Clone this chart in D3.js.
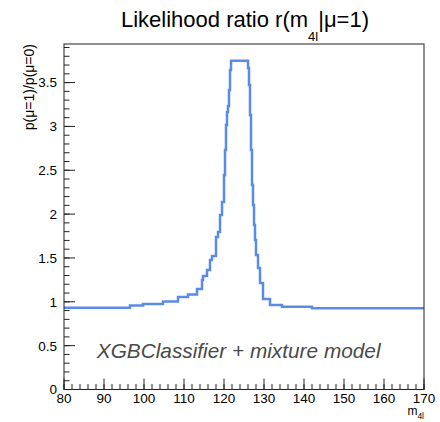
<!DOCTYPE html>
<html>
<head>
<meta charset="utf-8">
<script src="https://cdn.jsdelivr.net/npm/d3@7"></script>
<style>
  body { margin: 0; background: #fff; }
  text { font-family: "Liberation Sans", Arial, sans-serif; fill: #000; }
</style>
</head>
<body>
<svg id="chart" width="440" height="422"></svg>
<script>
// step function: bin edges (m4l) and ratio value in each bin
const edges = [80, 96.5, 99.75, 104.75, 108.5, 111, 113.25, 114.5, 114.75, 115.75, 116.5, 117, 118,
  118.5, 119, 119.5, 120, 120.25, 120.5, 120.75, 121, 121.25, 121.5, 121.75, 126, 126.25, 126.5,
  126.75, 127, 127.25, 127.5, 127.75, 128, 128.5, 129, 129.75, 131.5, 134.5, 142, 170];
const ratio = [0.933, 0.958, 0.975, 1.003, 1.055, 1.083, 1.146, 1.249, 1.294, 1.363, 1.477, 1.522,
  1.739, 1.796, 1.99, 2.138, 2.446, 2.73, 3.016, 3.164, 3.232, 3.415, 3.643, 3.75, 3.666, 3.472,
  3.13, 2.73, 2.332, 2.104, 1.876, 1.705, 1.534, 1.385, 1.214, 1.032, 0.963, 0.944, 0.926];

const xTicks = [80, 90, 100, 110, 120, 130, 140, 150, 160, 170];
const yTicks = [0, 0.5, 1, 1.5, 2, 2.5, 3, 3.5];
const legendText = "XGBClassifier + mixture model";

const margin = {top: 44, right: 16, bottom: 32.5, left: 64};
const W = 440, H = 422;
const w = W - margin.left - margin.right;
const h = H - margin.top - margin.bottom;

const svg = d3.select("#chart");
const g = svg.append("g").attr("transform", `translate(${margin.left},${margin.top})`);

const x = d3.scaleLinear().domain([80, 170]).range([0, w]);
const y = d3.scaleLinear().domain([0, 3.94]).range([h, 0]);

// histogram line
const pts = ratio.map((v, i) => [edges[i], v]);
pts.push([edges[edges.length - 1], ratio[ratio.length - 1]]);
g.append("path")
  .datum(pts)
  .attr("fill", "none")
  .attr("stroke", "#5a8ce6")
  .attr("stroke-width", 2.5)
  .attr("d", d3.line().x(d => x(d[0])).y(d => y(d[1])).curve(d3.curveStepAfter));

// frame
g.append("rect")
  .attr("width", w).attr("height", h)
  .attr("fill", "none").attr("stroke", "#222").attr("stroke-width", 1);

// y axis ticks (inside)
const yMinor = d3.range(0, 3.91, 0.1);
g.selectAll(".ymin").data(yMinor).enter().append("line")
  .attr("x1", 0).attr("x2", 5.5)
  .attr("y1", d => y(d)).attr("y2", d => y(d))
  .attr("stroke", "#222");
g.selectAll(".ymaj").data(yTicks).enter().append("line")
  .attr("x1", 0).attr("x2", 11)
  .attr("y1", d => y(d)).attr("y2", d => y(d))
  .attr("stroke", "#222");
g.selectAll(".ylab").data(yTicks).enter().append("text")
  .attr("x", -7).attr("y", d => y(d)).attr("dy", "0.36em")
  .attr("text-anchor", "end").attr("font-size", 13.5)
  .text(d => d);

// x axis ticks (inside)
const xMinor = d3.range(80, 170.1, 2);
g.selectAll(".xmin").data(xMinor).enter().append("line")
  .attr("x1", d => x(d)).attr("x2", d => x(d))
  .attr("y1", h).attr("y2", h - 5.5)
  .attr("stroke", "#222");
g.selectAll(".xmaj").data(xTicks).enter().append("line")
  .attr("x1", d => x(d)).attr("x2", d => x(d))
  .attr("y1", h).attr("y2", h - 11)
  .attr("stroke", "#222");
g.selectAll(".xlab").data(xTicks).enter().append("text")
  .attr("x", d => x(d)).attr("y", h + 13)
  .attr("text-anchor", "middle").attr("font-size", 13.5)
  .text(d => d);

// x axis title
const xt = g.append("text").attr("x", w).attr("y", h + 25)
  .attr("text-anchor", "end").attr("font-size", 12);
xt.append("tspan").text("m");
xt.append("tspan").attr("dy", 4).attr("font-size", 8.5).text("4l");

// y axis title
svg.append("text")
  .attr("transform", `translate(34,${margin.top}) rotate(-90)`)
  .attr("text-anchor", "end").attr("font-size", 14)
  .text("p(μ=1)/p(μ=0)");

// title
const t = svg.append("text").attr("x", 245).attr("y", 27)
  .attr("text-anchor", "middle").attr("font-size", 22);
t.append("tspan").text("Likelihood ratio r(m");
t.append("tspan").attr("dy", 14).attr("font-size", 13).text("4l");
t.append("tspan").attr("dy", -14).text("|μ=1)");

// legend text
g.append("text")
  .attr("x", x(88.2)).attr("y", y(0.36))
  .attr("font-family", "'Open Sans', sans-serif")
  .attr("font-style", "italic").attr("font-size", 20.8)
  .style("fill", "#4a4a4a")
  .text(legendText);
</script>
</body>
</html>
